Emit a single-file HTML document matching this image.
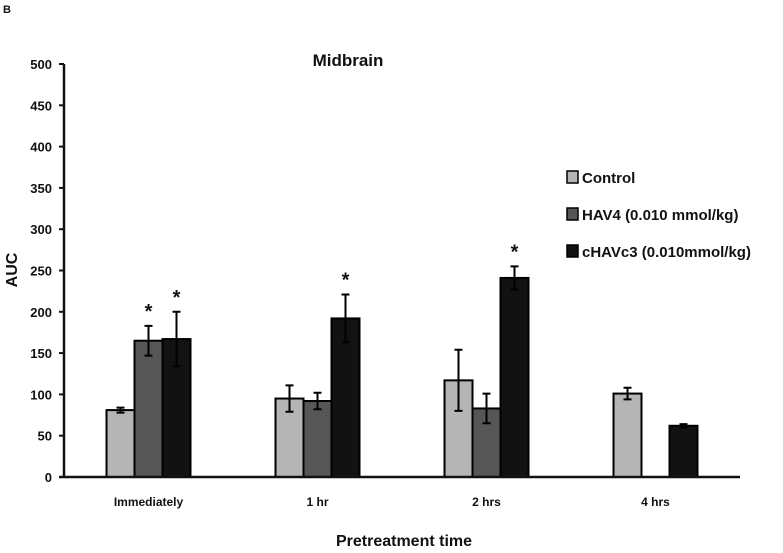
<!DOCTYPE html>
<html><head><meta charset="utf-8"><style>
body{margin:0;background:#fff;}
svg text{font-family:"Liberation Sans",sans-serif;font-weight:bold;fill:#111;}
</style></head><body>
<svg id="c" width="783" height="548"></svg>
<script>
const categories=["Immediately","1 hr","2 hrs","4 hrs"];
const seriesNames=["Control","HAV4 (0.010 mmol/kg)","cHAVc3 (0.010mmol/kg)"];
const controlVals=[81,95,117,101];
const hav4Vals=[165,92,83,null];
const chavVals=[167,192,241,62];
const controlErr=[3,16,37,7];
const hav4Err=[18,10,18,null];
const chavErr=[33,29,14,2];
const hav4Sig=[true,false,false,false];
const chavSig=[true,true,true,false];
const yTicks=[0,50,100,150,200,250,300,350,400,450,500];
const colors=["#b5b5b5","#565656","#121212"];
const NS="http://www.w3.org/2000/svg";
const svg=document.getElementById('c');
const x0=64,x1=740,y0=477,y1=64,ymax=500;
const y=v=>y0-(v/ymax)*(y0-y1);
const band=(x1-x0)/categories.length, bw=28;
function mk(t,a,txt){const e=document.createElementNS(NS,t);for(const k in a)e.setAttribute(k,a[k]);if(txt!=null)e.textContent=txt;svg.appendChild(e);return e;}
let e;
e=mk('text',{x:3,y:13,'font-size':11},'B');


e=mk('text',{x:348,y:66,'font-size':17,'text-anchor':'middle'},'Midbrain');


yTicks.forEach(t=>{
 e=mk('line',{x1:x0-5,x2:x0,y1:y(t),y2:y(t),stroke:'#111','stroke-width':2});
 
 
 e=mk('text',{x:x0-12,y:y(t)+5,'font-size':13,'text-anchor':'end'},t);
 
 
});
e=mk('text',{x:17,y:270,'font-size':16,'text-anchor':'middle',transform:'rotate(-90 17 270)'},'AUC');


const vals=[controlVals,hav4Vals,chavVals],errs=[controlErr,hav4Err,chavErr],sigs=[null,hav4Sig,chavSig];
categories.forEach((c,i)=>{
 const cx=x0+band*(i+0.5);
 for(let s=0;s<3;s++){
  const v=vals[s][i]; if(v==null)continue;
  const bx=cx-1.5*bw+s*bw;
  e=mk('rect',{x:bx,y:y(v),width:bw,height:y0-y(v),fill:colors[s],stroke:'#000','stroke-width':2});
  
  
  const er=errs[s][i], mx=bx+bw/2;
  e=mk('path',{d:`M${mx},${y(v-er)}V${y(v+er)}M${mx-4},${y(v-er)}h8M${mx-4},${y(v+er)}h8`,stroke:'#000','stroke-width':2,fill:'none'});
  
  
  if(sigs[s]&&sigs[s][i]){
   e=mk('text',{x:mx,y:y(v+er)-8,'font-size':20,'text-anchor':'middle'},'*');
   
   
  }
 }
 e=mk('text',{x:cx,y:506,'font-size':12,'text-anchor':'middle'},c);
 
 
});
e=mk('line',{x1:x0,x2:x0,y1:y1,y2:y0,stroke:'#111','stroke-width':2.5});


e=mk('line',{x1:x0-5,x2:x1,y1:y0,y2:y0,stroke:'#111','stroke-width':2.5});


e=mk('text',{x:404,y:546,'font-size':16,'text-anchor':'middle'},'Pretreatment time');


const ly=[177,214,251];
seriesNames.forEach((n,s)=>{
 e=mk('rect',{x:567,y:ly[s]-6,width:11,height:12,fill:colors[s],stroke:'#000','stroke-width':1.5});
 
 
 e=mk('text',{x:582,y:ly[s]+6,'font-size':15},n);
 
 
});
</script>
</body></html>
